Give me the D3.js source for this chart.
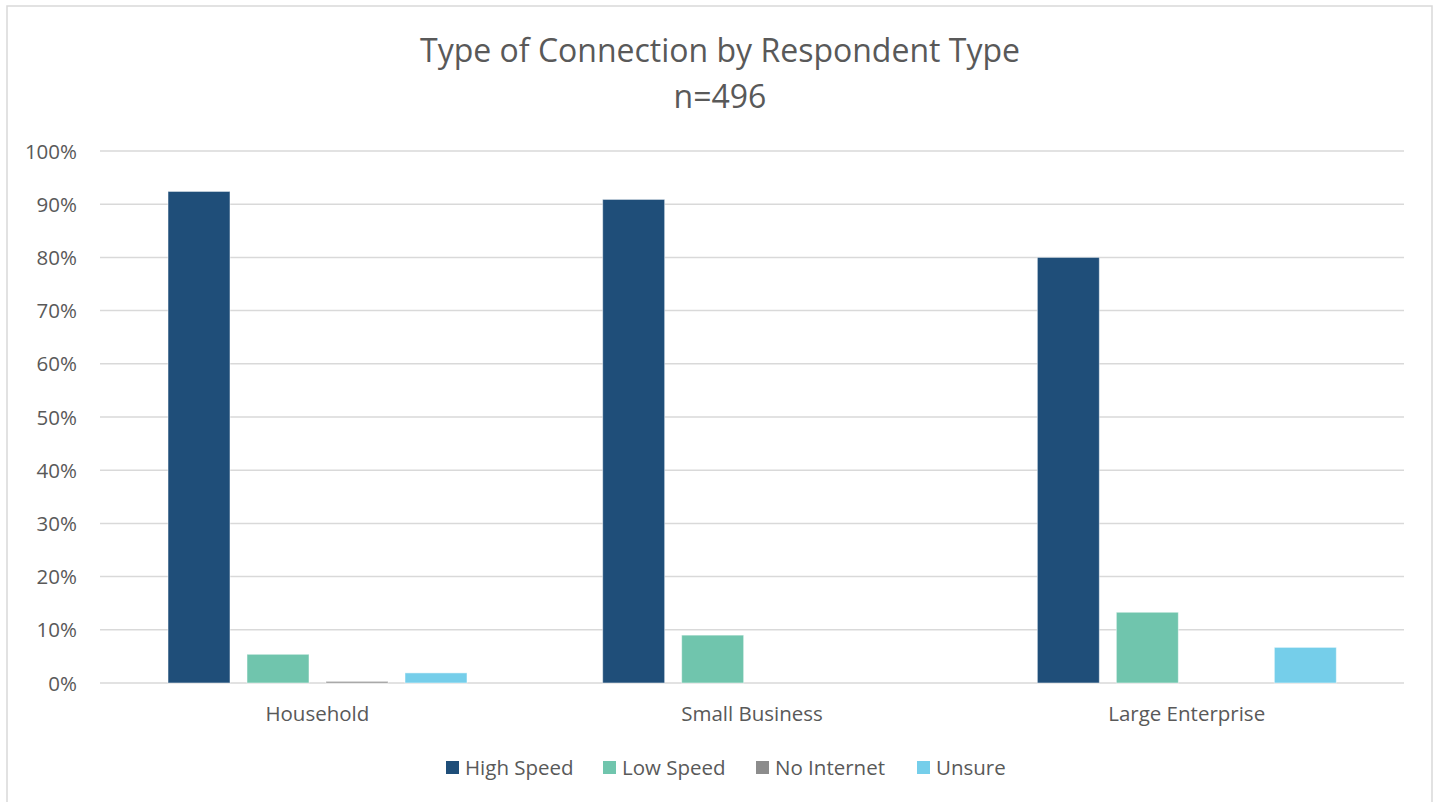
<!DOCTYPE html>
<html>
<head>
<meta charset="utf-8">
<script src="https://cdn.jsdelivr.net/npm/d3@7"></script>
<style>
  body { margin: 0; background: white; }
  text { font-family: "Open Sans", "Liberation Sans", sans-serif; fill: #595959; }
</style>
</head>
<body>
<div id="chart"></div>
<script>
const categories = ["Household", "Small Business", "Large Enterprise"];
const seriesNames = ["High Speed", "Low Speed", "No Internet", "Unsure"];
const highSpeed = [92.4, 90.9, 80.0];
const lowSpeed = [5.4, 9.0, 13.3];
const noInternet = [0.3, 0, 0];
const unsure = [1.9, 0, 6.7];
const yTicks = [0, 10, 20, 30, 40, 50, 60, 70, 80, 90, 100];
const colors = ["#1F4E79", "#70C5AD", "#8C8C8C", "#75CEEA"];

const seriesValues = [highSpeed, lowSpeed, noInternet, unsure];

const width = 1439;
const height = 802;
const plot = {left: 100, right: 1404, top: 151, bottom: 683};

const svg = d3.select("#chart")
  .append("svg")
  .attr("width", width)
  .attr("height", height);

// chart border
svg.append("rect")
  .attr("x", 7)
  .attr("y", 6)
  .attr("width", 1425)
  .attr("height", 810)
  .attr("fill", "white")
  .attr("stroke", "#D9D9D9")
  .attr("stroke-width", 1.5);

svg.append("text")
  .attr("x", 720)
  .attr("y", 62)
  .attr("text-anchor", "middle")
  .style("font-size", "32px")
  .text("Type of Connection by Respondent Type");

svg.append("text")
  .attr("x", 720)
  .attr("y", 108)
  .attr("text-anchor", "middle")
  .style("font-size", "32px")
  .text("n=496");

const y = d3.scaleLinear()
  .domain([0, 100])
  .range([plot.bottom, plot.top]);

const x0 = d3.scaleBand()
  .domain(categories)
  .range([plot.left, plot.right])
  .padding(0);

const x1 = d3.scaleBand()
  .domain(seriesNames)
  .range([68, 367])
  .paddingInner(17 / 79)
  .paddingOuter(0);

// gridlines
svg.append("g")
  .selectAll("line")
  .data(yTicks)
  .enter()
  .append("line")
  .attr("x1", plot.left)
  .attr("x2", plot.right)
  .attr("y1", d => y(d))
  .attr("y2", d => y(d))
  .attr("stroke", "#D9D9D9")
  .attr("stroke-width", 1.5);

// y tick labels
const yAxis = svg.append("g")
  .attr("transform", `translate(${plot.left - 23},0)`)
  .call(d3.axisLeft(y).tickValues(yTicks).tickFormat(d => d + "%").tickSize(0).tickPadding(0));
yAxis.select(".domain").remove();
yAxis.selectAll("text")
  .attr("dy", "0.35em")
  .style("font-size", "20.5px")
  .style("font-family", "\"Open Sans\", sans-serif")
  .attr("fill", "#595959");

// bars
const groups = svg.selectAll(".cat")
  .data(categories)
  .enter()
  .append("g")
  .attr("transform", d => `translate(${x0(d)},0)`);

seriesNames.forEach((name, i) => {
  groups.append("rect")
    .attr("x", x1(name))
    .attr("y", (d, j) => y(seriesValues[i][j]))
    .attr("width", x1.bandwidth())
    .attr("height", (d, j) => y(0) - y(seriesValues[i][j]))
    .attr("fill", colors[i])
    .attr("stroke", "white")
    .attr("stroke-opacity", 0.5)
    .attr("stroke-width", 1)
    .style("display", (d, j) => seriesValues[i][j] > 0 ? null : "none");
});

// category labels
const xAxis = svg.append("g")
  .attr("transform", `translate(0,${plot.bottom})`)
  .call(d3.axisBottom(x0).tickSize(0).tickPadding(0));
xAxis.select(".domain").remove();
xAxis.selectAll("text")
  .attr("y", 38)
  .attr("dy", 0)
  .style("font-size", "20.5px")
  .style("font-family", "\"Open Sans\", sans-serif")
  .attr("fill", "#595959");

// legend
const legendX = [446, 603, 756, 917];
const legend = svg.append("g");
seriesNames.forEach((name, i) => {
  legend.append("rect")
    .attr("x", legendX[i])
    .attr("y", 761)
    .attr("width", 13)
    .attr("height", 13)
    .attr("fill", colors[i]);
  legend.append("text")
    .attr("x", legendX[i] + 19)
    .attr("y", 775)
    .style("font-size", "20.5px")
    .text(name);
});
</script>
</body>
</html>
